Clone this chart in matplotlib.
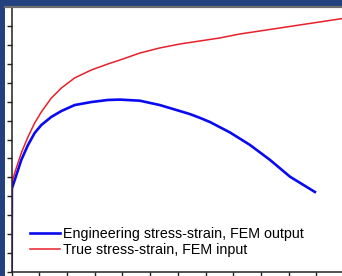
import matplotlib
matplotlib.use('Agg')
import matplotlib.pyplot as plt
from matplotlib.patches import Rectangle
from matplotlib.lines import Line2D

# Eğri verileri (eksen birimleri: tik aralığı)
true_strain = [0, 0.007, 0.108, 0.347, 0.588, 0.830, 1.069, 1.430, 1.791, 2.274,
               2.874, 3.477, 3.91, 4.63, 5.35, 6.08, 6.80, 7.52, 8.24, 9.33,
               10.41, 11.95]
true_stress = [0, 4.70, 5.23, 6.29, 7.14, 7.88, 8.46, 9.20, 9.73, 10.27,
               10.69, 11.01, 11.22, 11.59, 11.86, 12.07, 12.23, 12.39, 12.60, 12.84,
               13.08, 13.42]

eng_strain = [0, 0.007, 0.108, 0.347, 0.588, 0.830, 1.069, 1.430, 1.791, 2.274,
              2.874, 3.477, 3.91, 4.63, 5.35, 6.08, 6.44, 6.80, 7.16, 7.88,
              8.60, 9.33, 10.05, 10.95]
eng_stress = [0, 4.40, 4.85, 5.92, 6.71, 7.35, 7.77, 8.20, 8.51, 8.83,
              8.99, 9.10, 9.12, 9.06, 8.83, 8.51, 8.35, 8.15, 7.93, 7.38,
              6.72, 5.92, 5.03, 4.22]

labels = ['Engineering stress-strain, FEM output', 'True stress-strain, FEM input']

W, H = 342, 276
fig = plt.figure(figsize=(W / 100, H / 100), dpi=100)
fig.patch.set_facecolor('#23407f')

# beyaz alan ve üstteki gri çizgi
fig.patches.append(Rectangle((5 / W, 0), 1, (H - 6) / H, transform=fig.transFigure,
                             facecolor='white', edgecolor='none', zorder=-10))
fig.lines.append(Line2D([5 / W, 1], [(H - 6.5) / H] * 2, transform=fig.transFigure,
                        color='#6e6e6e', linewidth=1.6))

ax = fig.add_axes([11.7 / W, 4.5 / H, (W - 11.7) / W, 263.9 / H])
ax.plot(eng_strain, eng_stress, color='#0a0af0', linewidth=1.9, label=labels[0],
        solid_joinstyle='round')
ax.plot(true_strain, true_stress, color='#e8202a', linewidth=1.1, label=labels[1],
        solid_joinstyle='round')

ax.set_xlim(0, 11.93)
ax.set_ylim(0, 14)
ax.set_xticks(range(0, 12))
ax.set_yticks(range(0, 14))
ax.set_xticklabels([])
ax.set_yticklabels([])
ax.tick_params(direction='out', length=3.8, width=1.0, color='#222222')
for s in ['top', 'right']:
    ax.spines[s].set_visible(False)
for s in ['left', 'bottom']:
    ax.spines[s].set_linewidth(1.1)
    ax.spines[s].set_color('#222222')

ax.legend(loc='upper left', bbox_to_anchor=(30 / W, (H - 227) / H),
          bbox_transform=fig.transFigure, frameon=False, borderpad=0,
          borderaxespad=0, handlelength=2.1, handletextpad=0.2,
          labelspacing=0.15, prop={'family': 'Liberation Sans', 'size': 10.3})

fig.savefig('out.png', dpi=100, facecolor=fig.get_facecolor())
